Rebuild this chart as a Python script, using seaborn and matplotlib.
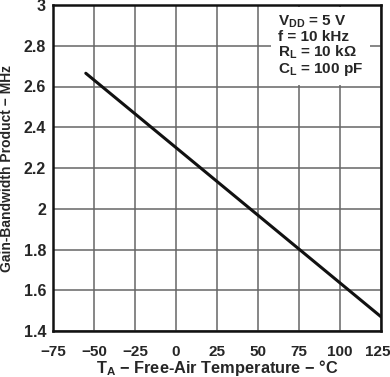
import numpy as np
import pandas as pd
import matplotlib
matplotlib.use('Agg')
import matplotlib.pyplot as plt
import matplotlib.transforms as mtransforms
import seaborn as sns

# gain-bandwidth product vs free-air temperature
temp_c = [-55, -25, 0, 25, 50, 75, 100, 125]
gbw_mhz = [2.665, 2.466, 2.30, 2.134, 1.968, 1.802, 1.636, 1.47]
x_ticks = [-75, -50, -25, 0, 25, 50, 75, 100, 125]
x_labels = ['\u221275', '\u221250', '\u221225', '0', '25', '50', '75', '100', '125']
y_ticks = [1.4, 1.6, 1.8, 2.0, 2.2, 2.4, 2.6, 2.8, 3.0]
y_labels = ['1.4', '1.6', '1.8', '2', '2.2', '2.4', '2.6', '2.8', '3']

df = pd.DataFrame({'T': temp_c, 'GBW': gbw_mhz})

sns.set_style('whitegrid')
plt.rcParams['font.family'] = ['Liberation Sans', 'DejaVu Sans']
plt.rcParams['font.weight'] = 'bold'
plt.rcParams['mathtext.fontset'] = 'custom'
plt.rcParams['mathtext.rm'] = 'Liberation Sans:bold'
plt.rcParams['mathtext.default'] = 'rm'

fig = plt.figure(figsize=(3.9, 3.77), dpi=100)
ax = fig.add_axes([53 / 390, 46 / 377, 328 / 390, 326 / 377])

sns.lineplot(data=df, x='T', y='GBW', ax=ax, color='#111111', linewidth=2.2, zorder=3)

ax.set_xlim(-75, 125)
ax.set_ylim(1.4, 3.0)
ax.set_xticks(x_ticks)
ax.set_xticklabels(x_labels)
ax.set_yticks(y_ticks)
ax.set_yticklabels(y_labels)
ax.grid(True, color='#666666', linewidth=1.1)
ax.set_axisbelow(True)
for s in ax.spines.values():
    s.set_color('#111111')
    s.set_linewidth(1.8)
ax.tick_params(axis='x', length=0, labelsize=11, pad=10)
ax.tick_params(axis='y', length=0, labelsize=11.5, pad=5)
for lab in ax.get_xticklabels() + ax.get_yticklabels():
    lab.set_fontweight('bold')

# last x label sits against the right edge, nudge it in a little
last = ax.get_xticklabels()[-1]
last.set_transform(last.get_transform() + mtransforms.ScaledTranslation(-3 / 100, 0, fig.dpi_scale_trans))

ax.set_xlabel('T$_A$ \u2212 Free-Air Temperature \u2212 \u00b0C', fontsize=11.8, fontweight='bold')
ax.set_ylabel('Gain-Bandwidth Product \u2212 MHz', fontsize=10, fontweight='bold')
ax.xaxis.set_label_coords(0.5, -0.084)
ax.yaxis.set_label_coords(-0.118, 0.5)

info = 'V$_{DD}$ = 5 V\nf = 10 kHz\nR$_L$ = 10 k\u03a9\nC$_L$ = 100 pF'
ax.text(0.685, 0.975, info, transform=ax.transAxes, ha='left', va='top', fontsize=11,
        fontweight='bold', linespacing=1.0,
        bbox=dict(facecolor='white', edgecolor='none', pad=5))

fig.savefig('out.png', dpi=100)
